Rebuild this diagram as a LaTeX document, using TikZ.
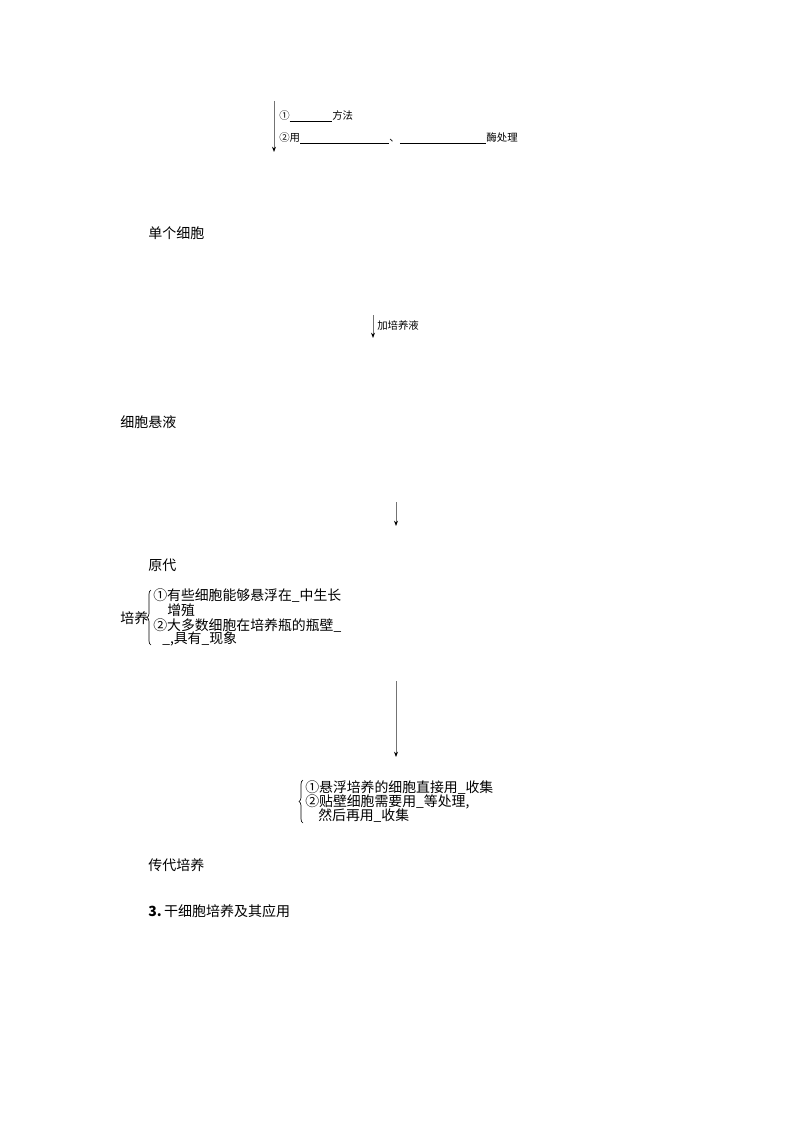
\documentclass[tikz,border=0pt]{standalone}
\usepackage{fontspec}
\setmainfont{Noto Sans CJK SC}
\usetikzlibrary{arrows.meta,decorations.pathreplacing}
\begin{document}
\begin{tikzpicture}[x=0.75pt,y=-0.75pt,
  big/.style={anchor=west,inner sep=0pt,font=\fontsize{10.5pt}{12pt}\selectfont},
  small/.style={anchor=west,inner sep=0pt,font=\fontsize{7.8pt}{9pt}\selectfont},
  mid/.style={anchor=west,inner sep=0pt,font=\fontsize{10.4pt}{10.5pt}\selectfont},
  arr/.style={draw=black!55,line width=0.6pt,-{Stealth[length=4pt,width=3pt,black]}},
  brc/.style={draw=black,line width=0.5pt,decorate,decoration={brace,amplitude=3pt}}]
\useasboundingbox (0,0) rectangle (794,1123);
% arrow 1
\coordinate (a1s) at (274,101);
\coordinate (a1e) at (274,152);
\draw[arr] (a1s) -- (a1e);
\node[small] (t1a) at (279,116) {①\rule[-1.5pt]{32pt}{0.4pt}方法};
\node[small] (t1b) at (279,138) {②用\rule[-1.5pt]{67pt}{0.4pt}、\rule[-1.5pt]{65pt}{0.4pt}酶处理};
\node[big] (n1) at (148,233) {单个细胞};
% arrow 2
\coordinate (a2s) at (373,315);
\coordinate (a2e) at (373,338);
\draw[arr] (a2s) -- (a2e);
\node[small] (t2) at (377,326) {加培养液};
\node[big] (n2) at (120,422) {细胞悬液};
% arrow 3
\coordinate (a3s) at (396,502);
\coordinate (a3e) at (396,526);
\draw[arr] (a3s) -- (a3e);
\node[big] (n3) at (148,565) {原代};
\node[big] (n3b) at (120,618) {培养};
\coordinate (b1b) at (151,645);
\coordinate (b1t) at (151,590);
\draw[brc] (b1b) -- (b1t);
\node[mid] (l1) at (153,596) {①有些细胞能够悬浮在\_中生长};
\node[mid] (l2) at (167,610) {增殖};
\node[mid] (l3) at (153,626) {②大多数细胞在培养瓶的瓶壁\_};
\node[mid] (l4) at (162,639) {\_,具有\_现象};
% arrow 4
\coordinate (a4s) at (396,681);
\coordinate (a4e) at (396,757);
\draw[arr] (a4s) -- (a4e);
\coordinate (b2b) at (303,823);
\coordinate (b2t) at (303,780);
\draw[brc] (b2b) -- (b2t);
\node[mid] (m1) at (305,788) {①悬浮培养的细胞直接用\_收集};
\node[mid] (m2) at (305,802) {②贴壁细胞需要用\_等处理,};
\node[mid] (m3) at (318,816) {然后再用\_收集};
\node[big] (n4) at (148,865) {传代培养};
\node[big] (n5) at (148,911) {\textbf{3.}\,干细胞培养及其应用};
\end{tikzpicture}
\end{document}
